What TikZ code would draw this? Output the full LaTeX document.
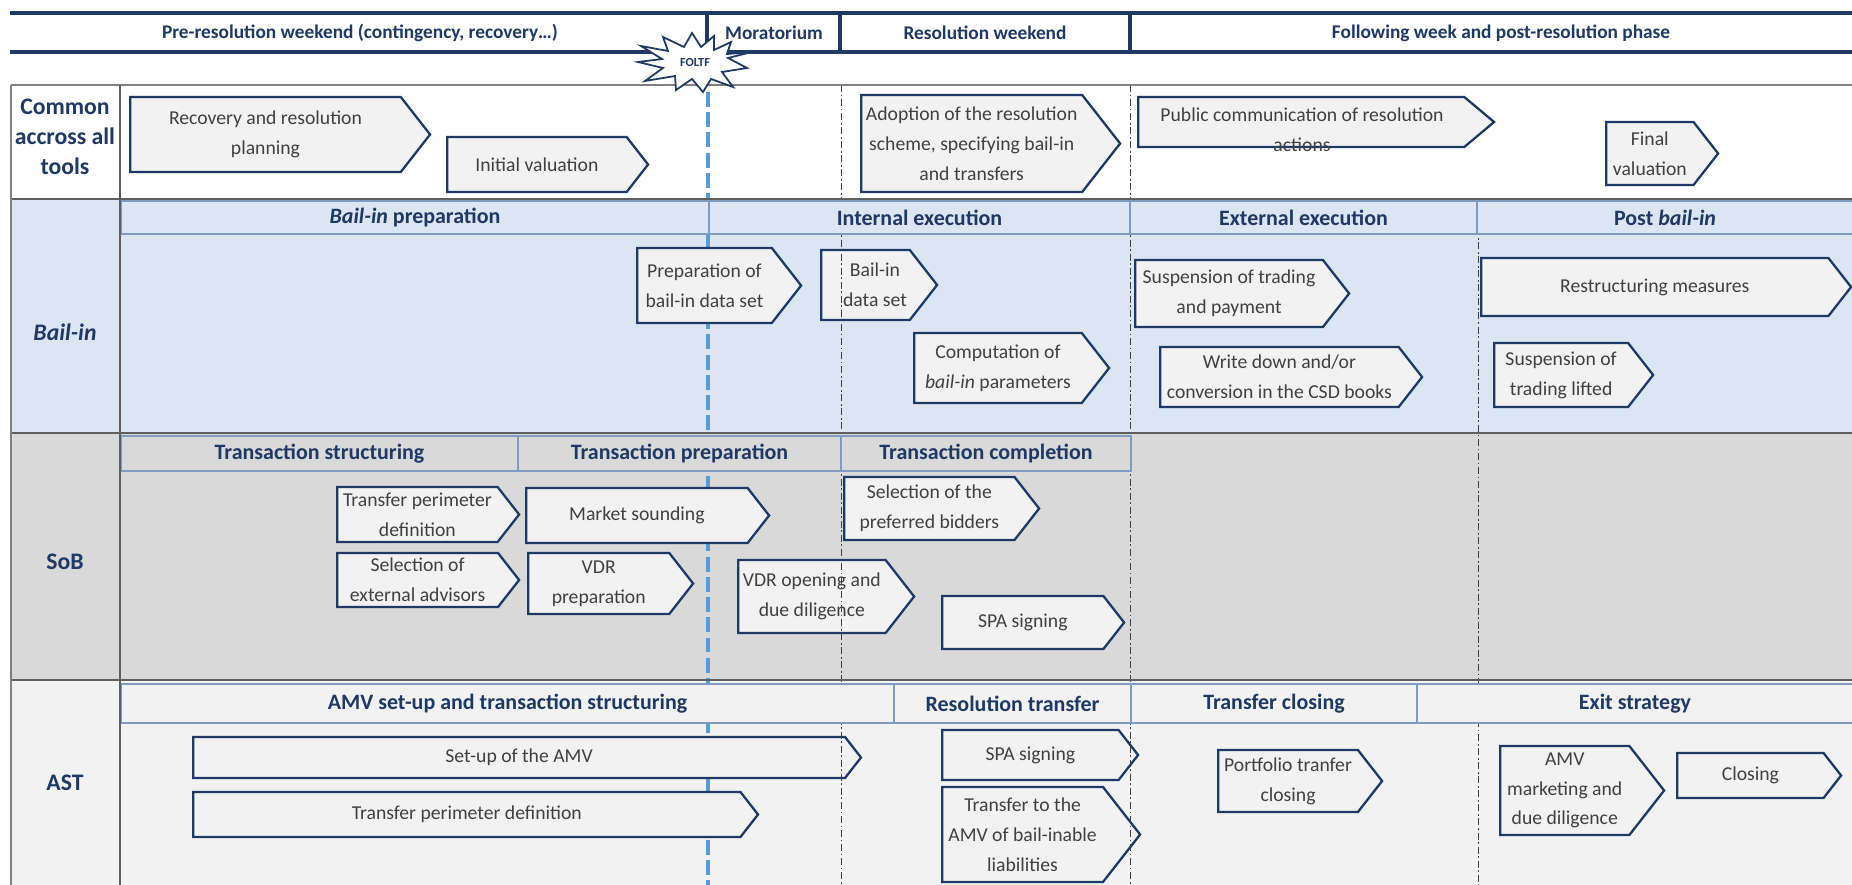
\documentclass[tikz,border=0pt]{standalone}
\usepackage{fontspec}
\setmainfont{Carlito}
\usetikzlibrary{shapes.symbols}
\definecolor{navy}{HTML}{1F3864}
\definecolor{bailbg}{HTML}{DCE6F2}
\definecolor{sobbg}{HTML}{D9D9D9}
\definecolor{astbg}{HTML}{F2F2F2}
\definecolor{boxfill}{HTML}{F2F2F2}
\definecolor{boxtext}{HTML}{404040}
\definecolor{bandline}{HTML}{7F9CC0}
\definecolor{rowgray}{HTML}{5F5F5F}
\definecolor{foltfblue}{HTML}{5B9BD5}

\begin{document}
\begin{tikzpicture}[x=0.02cm,y=-0.02cm]
\tikzstyle{every node}+=[inner sep=0pt]
\tikzstyle{phase}=[signal, signal to=east, signal from=nowhere, signal pointer angle=104, draw=navy, line width=1.3pt, fill=boxfill, text=boxtext, align=center, anchor=west, font=\fontsize{11.2}{17}\selectfont]
\tikzstyle{phasetext}=[text=boxtext, align=center, font=\fontsize{11.2}{17}\selectfont]
\tikzstyle{band}=[draw=bandline, line width=1.2pt, anchor=north west, text=navy, font=\bfseries\fontsize{12.5}{15}\selectfont]
\tikzstyle{headtext}=[text=navy, font=\bfseries\fontsize{11}{13}\selectfont]
\tikzstyle{rowlabel}=[text=navy, align=center, font=\bfseries\fontsize{13.5}{17}\selectfont]
\tikzstyle{headline}=[navy, line width=2pt]
\tikzstyle{rowline}=[rowgray, line width=1.6pt]
\tikzstyle{gridline}=[gray, line width=0.8pt]
\tikzstyle{phaseline}=[black!75, line width=0.5pt, dash pattern=on 4pt off 1.5pt on 1pt off 1.5pt]
\tikzstyle{foltfline}=[foltfblue, line width=1.8pt, dash pattern=on 8.5pt off 3pt]
\tikzstyle{foltfstar}=[draw=navy, fill=white, line width=1pt, line join=miter]
\useasboundingbox (0,0) rectangle (1852,885);
\fill[white] (0,0) rectangle (1852,885);
\fill[bailbg] (11,199) rectangle (1852,433);
\fill[sobbg] (11,433) rectangle (1852,680);
\fill[astbg] (11,680) rectangle (1852,885);
\draw[foltfline] (708,92) -- (708,885);

\node[phase, minimum width=6cm, minimum height=1.5cm] (plan) at (129,134.5) {Recovery and resolution\\planning};
\node[phase, minimum width=4.02cm, minimum height=1.1cm] (initval) at (446,164.5) {Initial valuation};
\node[phase, minimum width=5.18cm, minimum height=1.94cm] (adopt) at (860,143.5) {Adoption of the resolution\\scheme, specifying bail-in\\and transfers};
\node[phase, signal pointer angle=80, minimum width=7.12cm, minimum height=1cm] (pubcom) at (1137,122) {};
\node[phasetext] (pubcomtext) at (1302,130) {Public communication of resolution\\actions};
\node[phase, minimum width=2.24cm, minimum height=1.26cm] (finalval) at (1605,153.5) {Final\\valuation};

\node[phase, minimum width=3.28cm, minimum height=1.5cm] (prepdata) at (636,285.5) {Preparation of\\bail-in data set};
\node[phase, minimum width=2.32cm, minimum height=1.4cm] (bidata) at (820,285) {};
\node[phasetext] (bidatatext) at (875,285) {Bail-in\\data set};
\node[phase, minimum width=3.9cm, minimum height=1.4cm] (comput) at (913,368) {Computation of\\\textit{bail-in} parameters};
\node[phase, minimum width=4.28cm, minimum height=1.34cm] (susptrade) at (1134,293.5) {Suspension of trading\\and payment};
\node[phase, minimum width=5.24cm, minimum height=1.2cm] (writedown) at (1159,377) {Write down and/or\\conversion in the CSD books};
\node[phase, minimum width=7.4cm, minimum height=1.16cm] (restruct) at (1480,287) {Restructuring measures};
\node[phase, minimum width=3.18cm, minimum height=1.28cm] (susplift) at (1493,375) {Suspension of\\trading lifted};

\node[phase, minimum width=3.64cm, minimum height=1.1cm] (perimsob) at (336,514.5) {Transfer perimeter\\definition};
\node[phase, minimum width=3.64cm, minimum height=1.08cm] (advisors) at (336,580) {Selection of\\external advisors};
\node[phase, minimum width=4.86cm, minimum height=1.1cm] (sounding) at (525,515.5) {Market sounding};
\node[phase, minimum width=3.3cm, minimum height=1.22cm] (vdrprep) at (527,583.5) {VDR\\preparation};
\node[phase, minimum width=3.9cm, minimum height=1.26cm] (bidders) at (843,508.5) {Selection of the\\preferred bidders};
\node[phase, minimum width=3.52cm, minimum height=1.46cm] (vdropen) at (737,596.5) {VDR opening and\\due diligence};
\node[phase, minimum width=3.64cm, minimum height=1.06cm] (spasob) at (941,622.5) {SPA signing};

\node[phase, minimum width=13.36cm, minimum height=0.82cm] (amvsetup) at (192,757.5) {Set-up of the AMV};
\node[phase, minimum width=11.3cm, minimum height=0.9cm] (perimast) at (192,814.5) {Transfer perimeter definition};
\node[phase, minimum width=3.92cm, minimum height=1cm] (spaast) at (941,755) {SPA signing};
\node[phase, minimum width=3.96cm, minimum height=1.9cm] (transfamv) at (941,834.5) {Transfer to the\\AMV of bail-inable\\liabilities};
\node[phase, minimum width=3.28cm, minimum height=1.24cm] (portfolio) at (1217,781) {Portfolio tranfer\\closing};
\node[phase, minimum width=3.28cm, minimum height=1.78cm] (amvmkt) at (1499,790.5) {AMV\\marketing and\\due diligence};
\node[phase, minimum width=3.28cm, minimum height=0.9cm] (closing) at (1676,775.5) {Closing};

\draw[phaseline] (841,85) -- (841,885);
\draw[phaseline] (1130,85) -- (1130,885);
\draw[phaseline] (1478,200) -- (1478,885);

\node[band, fill=bailbg, minimum width=11.76cm, minimum height=0.66cm] (bprep) at (120,200) {\textit{Bail-in} preparation};
\node[band, fill=bailbg, minimum width=8.42cm, minimum height=0.66cm] (binternal) at (708,200) {Internal execution};
\node[band, fill=bailbg, minimum width=6.94cm, minimum height=0.66cm] (bexternal) at (1129,200) {External execution};
\node[band, fill=bailbg, minimum width=7.52cm, minimum height=0.66cm] (bpost) at (1476,200) {Post \textit{bail-in}};
\node[band, fill=sobbg, minimum width=7.94cm, minimum height=0.7cm] (tstruct) at (120,435) {Transaction structuring};
\node[band, fill=sobbg, minimum width=6.46cm, minimum height=0.7cm] (tprep) at (517,435) {Transaction preparation};
\node[band, fill=sobbg, minimum width=5.8cm, minimum height=0.7cm] (tcompl) at (840,435) {Transaction completion};
\node[band, fill=astbg, minimum width=15.46cm, minimum height=0.78cm] (amvstruct) at (120,683) {AMV set-up and transaction structuring};
\node[band, fill=astbg, minimum width=4.74cm, minimum height=0.78cm] (restransf) at (893,683) {Resolution transfer};
\node[band, fill=astbg, minimum width=5.72cm, minimum height=0.78cm] (tclosing) at (1130,683) {Transfer closing};
\node[band, fill=astbg, minimum width=8.72cm, minimum height=0.78cm] (exit) at (1416,683) {Exit strategy};

\draw[gridline] (11,85) -- (1852,85);
\draw[rowline] (11,199) -- (1852,199);
\draw[rowline] (11,433) -- (1852,433);
\draw[rowline] (11,680) -- (1852,680);
\draw[gridline] (11,85) -- (11,885);
\draw[rowline, line width=1pt] (120,85) -- (120,885);

\node[rowlabel] (lcommon) at (65,137) {Common\\accross all\\tools};
\node[rowlabel] (lbailin) at (65,332) {\textit{Bail-in}};
\node[rowlabel] (lsob) at (65,562) {SoB};
\node[rowlabel] (last) at (65,783) {AST};

\draw[headline] (10,13) -- (1852,13);
\draw[headline] (10,52) -- (1852,52);
\draw[headline] (707,13) -- (707,52);
\draw[headline] (840,13) -- (840,52);
\draw[headline] (1130,13) -- (1130,52);
\node[headtext] (hpre) at (360,33) {Pre-resolution weekend (contingency, recovery…)};
\node[headtext] (hmor) at (774,33) {Moratorium};
\node[headtext] (hres) at (985,33) {Resolution weekend};
\node[headtext] (hfol) at (1501,33) {Following week and post-resolution phase};

\draw[foltfstar] (752,52) -- (728,58) -- (747,68) -- (722,72) -- (733,87) -- (711,79) -- (703,92)
  -- (692,79) -- (676,90) -- (675,76) -- (645,81) -- (663,68) -- (638,62) -- (662,59)
  -- (641,46) -- (668,51) -- (663,37) -- (684,47) -- (692,33) -- (701,47) -- (714,36)
  -- (714,50) -- (731,42) -- (727,54) -- cycle;
\node[text=navy, font=\bfseries\fontsize{7}{8}\selectfont] (foltf) at (695,63) {FOLTF};
\end{tikzpicture}
\end{document}
